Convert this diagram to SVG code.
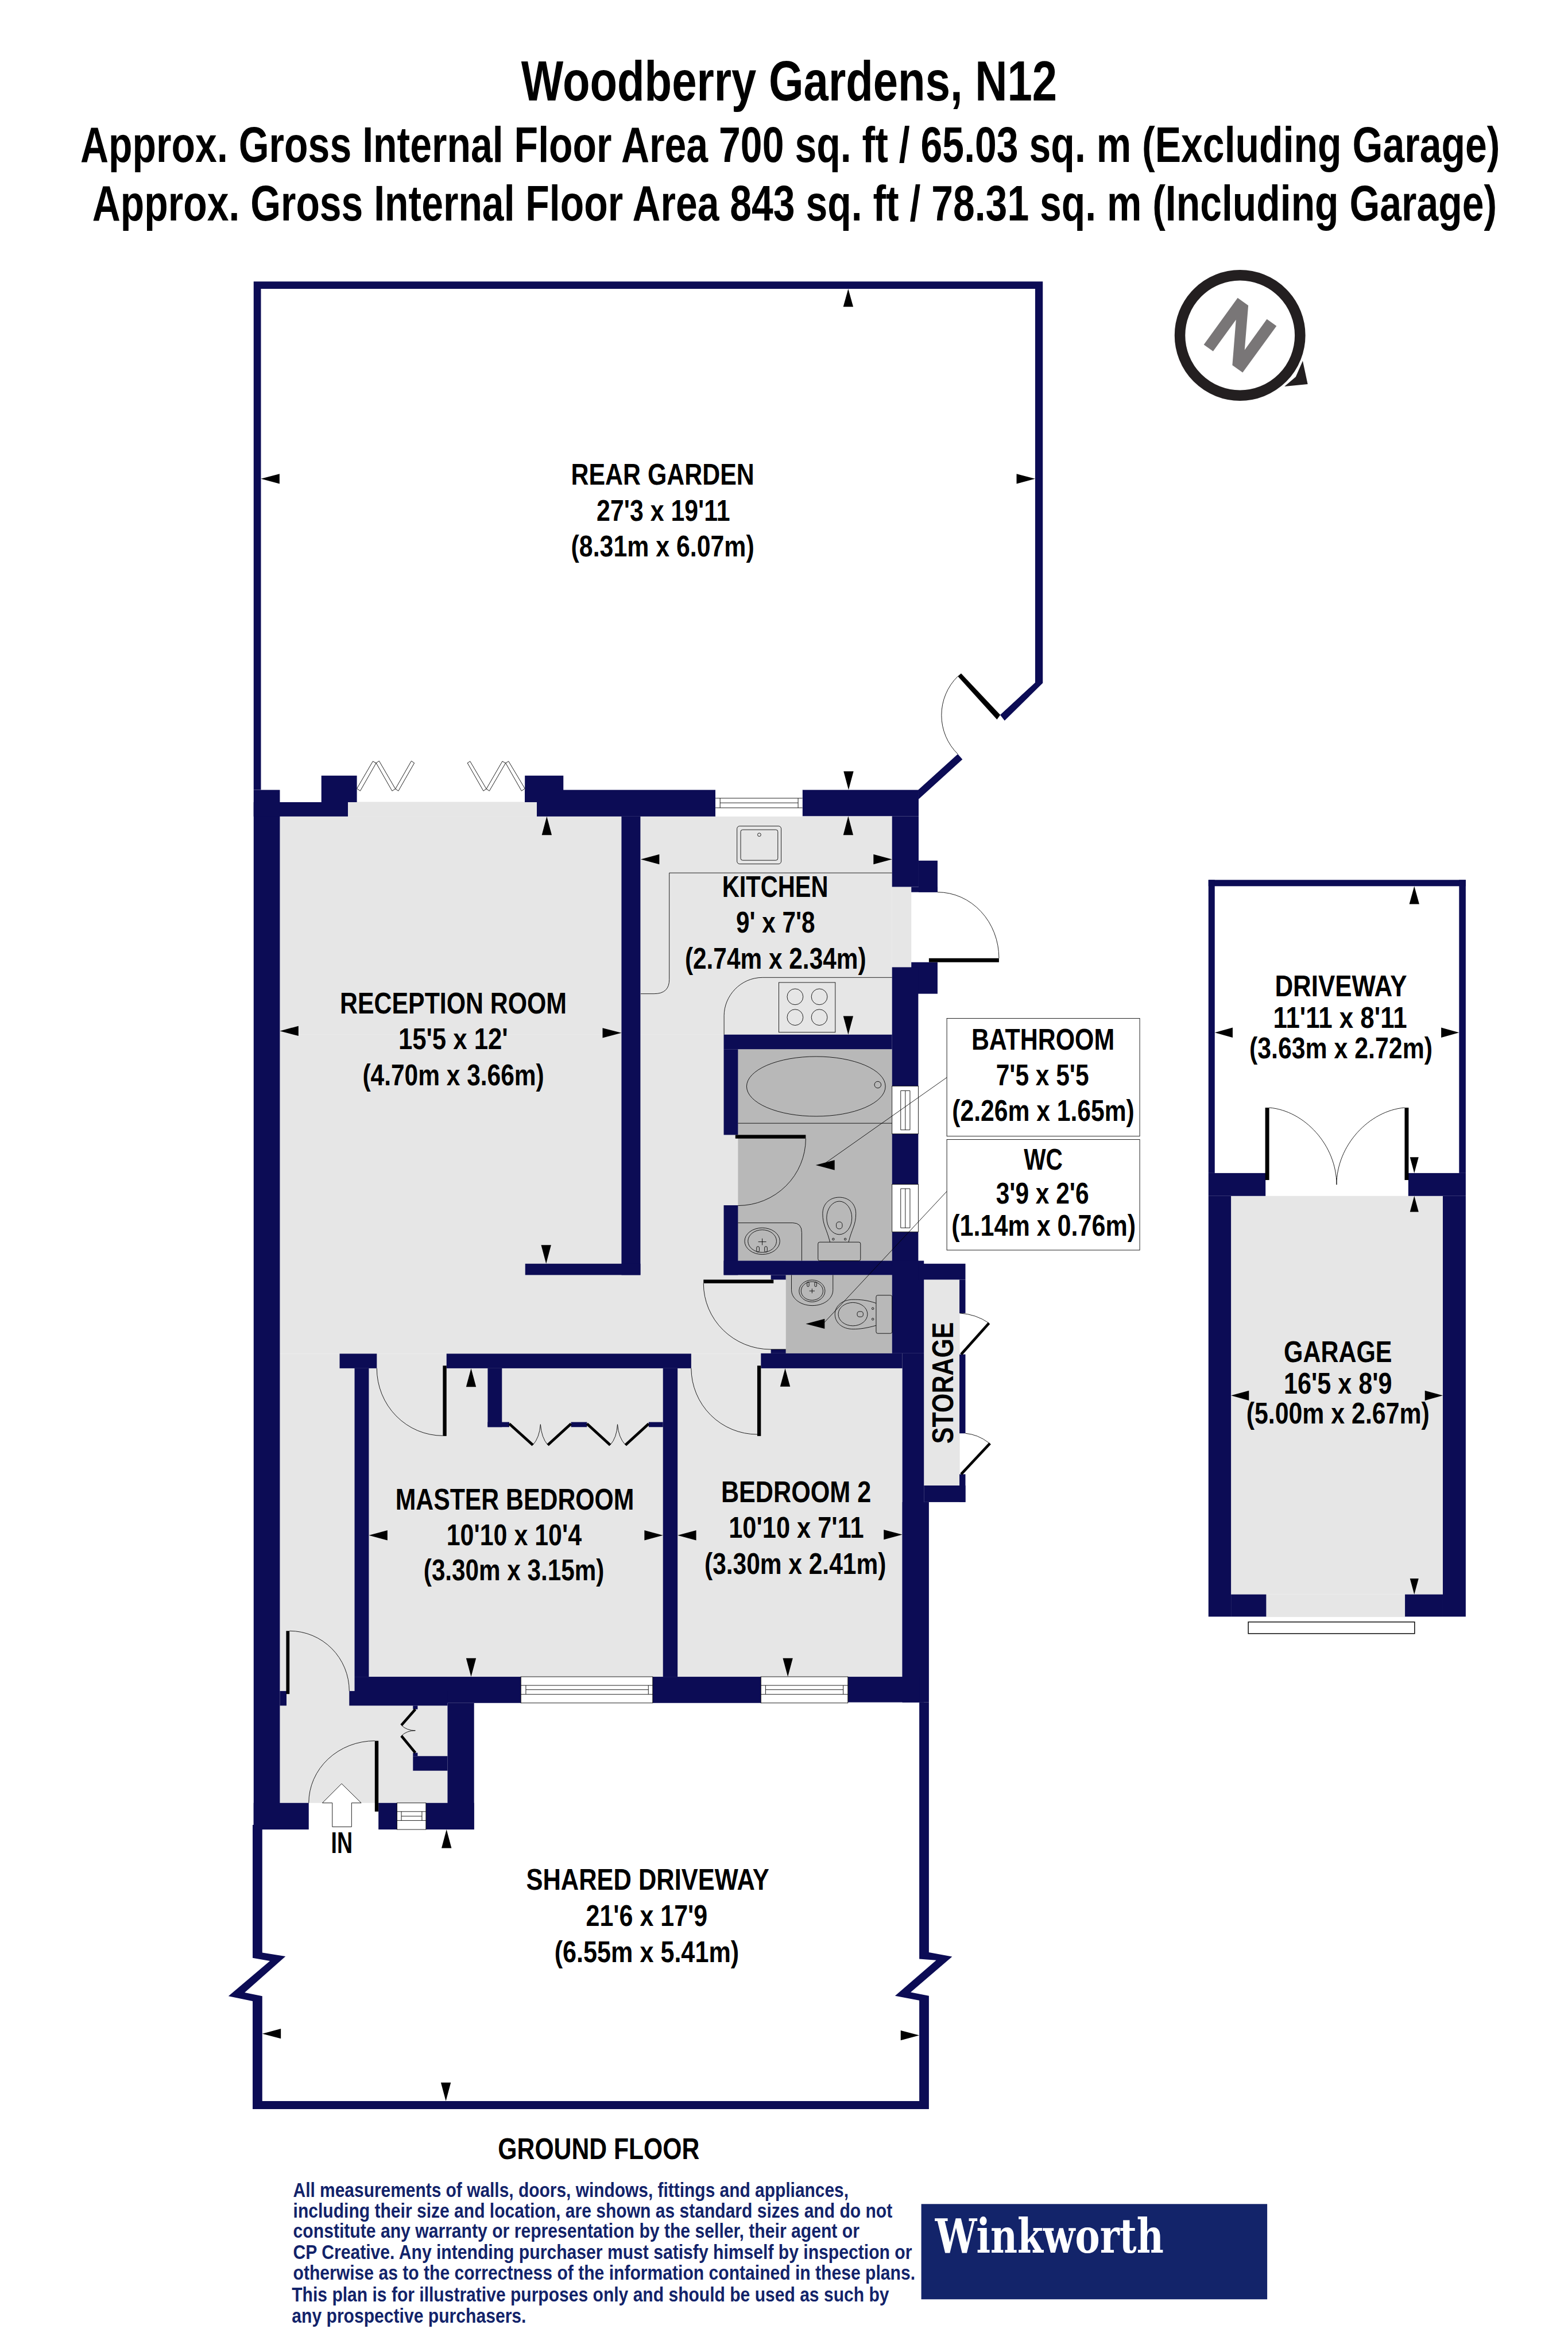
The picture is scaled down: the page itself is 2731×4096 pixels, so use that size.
<svg xmlns="http://www.w3.org/2000/svg" width="2731" height="4096" viewBox="0 0 2731 4096">
<style>
.bg{fill:#fff}
.f{fill:#e6e6e6}
.b{fill:#b8b8b8}
.w{fill:#0c0c55}
.l{fill:none;stroke:#000;stroke-width:1.5}
.lw{fill:#fff;stroke:#000;stroke-width:1.5}
.k{fill:#000}
.lf{fill:none;stroke:#000;stroke-width:9}
text{font-family:"Liberation Sans",Arial,sans-serif;font-weight:700;fill:#000}
.r{font-size:90px}
.h{font-size:150px}
.d{font-size:62px;fill:#12236a}
</style>
<g transform="scale(0.57823)">
<rect class="bg" width="4723" height="7084"/>
<g id="title">
<text class="h" style="font-size:170px" x="1570" y="303" textLength="1614" lengthAdjust="spacingAndGlyphs">Woodberry Gardens, N12</text>
<text class="h" transform="translate(242,488) scale(0.72,1)" textLength="5939" lengthAdjust="spacingAndGlyphs">Approx. Gross Internal Floor Area 700 sq. ft / 65.03 sq. m (Excluding Garage)</text>
<text class="h" transform="translate(278,664) scale(0.72,1)" textLength="5876" lengthAdjust="spacingAndGlyphs">Approx. Gross Internal Floor Area 843 sq. ft / 78.31 sq. m (Including Garage)</text>
</g>
<g id="compass">
<circle cx="3735" cy="1010" r="181" fill="none" stroke="#231f20" stroke-width="32"/>
<polygon fill="#231f20" points="3924,1087 3939,1157 3869,1164 3903,1135"/>
<polygon fill="#797677" points="3728,897 3760,920 3749,1054 3816,961 3845,982 3743,1122 3712,1100 3723,963 3654,1058 3626,1038"/>
</g>
<g id="floors">
<rect class="f" x="843" y="2459" width="1844" height="657"/>
<rect class="f" x="1048" y="2415" width="569" height="44"/>
<rect class="f" x="2687" y="2671" width="58" height="242"/>
<rect class="f" x="843" y="3116" width="1524" height="961"/>
<rect class="f" x="843" y="4077" width="1875" height="973"/>
<rect class="f" x="843" y="5050" width="505" height="380"/>
<rect class="f" x="2783" y="3854" width="108" height="620"/>
<rect class="b" x="2223" y="3160" width="464" height="637"/>
<rect class="b" x="2367" y="3840" width="320" height="236"/>
<rect class="f" x="3708" y="3602" width="638" height="1200"/>
<rect class="f" x="3814" y="4802" width="418" height="68"/>
</g>
<g id="walls">
<polygon class="w" points="764,2379 786,2379 786,870 3118,870 3118,2056 3013,2153 3026,2170 3141,2057 3141,848 764,848"/>
<polygon class="w" points="2766,2379 2885,2271 2899,2287 2767,2407"/>
<polygon class="w" points="761,5496 761,5897 813,5906 688,6012 761,6027 761,6352 2798,6352 2798,6011 2743,6000 2868,5893 2798,5880 2798,5127 2769,5127 2769,5900 2820,5904 2696,6011 2769,6025 2769,6328 790,6328 790,6012 737,6001 860,5892 790,5881 790,5496"/>
<rect class="w" x="764" y="2379" width="79" height="3131"/>
<rect class="w" x="968" y="2336" width="107" height="80"/>
<rect class="w" x="764" y="2416" width="284" height="43"/>
<rect class="w" x="1581" y="2336" width="116" height="80"/>
<rect class="w" x="1581" y="2379" width="574" height="37"/>
<rect class="w" x="1617" y="2416" width="538" height="43"/>
<rect class="w" x="2417" y="2379" width="350" height="79"/>
<rect class="w" x="2687" y="2458" width="80" height="213"/>
<rect class="w" x="2767" y="2592" width="57" height="95"/>
<rect class="w" x="2745" y="2671" width="79" height="16"/>
<rect class="w" x="2745" y="2898" width="79" height="95"/>
<rect class="w" x="2687" y="2913" width="79" height="358"/>
<rect class="w" x="1872" y="2459" width="57" height="1381"/>
<rect class="w" x="1582" y="3806" width="347" height="34"/>
<rect class="w" x="2180" y="3116" width="507" height="44"/>
<rect class="w" x="2180" y="3160" width="43" height="258"/>
<rect class="w" x="2180" y="3630" width="43" height="210"/>
<rect class="w" x="2180" y="3797" width="586" height="43"/>
<rect class="w" x="2687" y="3415" width="79" height="152"/>
<rect class="w" x="2687" y="3710" width="79" height="100"/>
<rect class="w" x="2322" y="3840" width="45" height="14"/>
<rect class="w" x="2322" y="4064" width="45" height="12"/>
<rect class="w" x="2687" y="3797" width="96" height="279"/>
<rect class="w" x="2292" y="4076" width="426" height="45"/>
<rect class="w" x="2718" y="4076" width="65" height="1051"/>
<rect class="w" x="2718" y="4524" width="80" height="603"/>
<rect class="w" x="2766" y="3806" width="142" height="48"/>
<rect class="w" x="2890" y="3854" width="18" height="101"/>
<rect class="w" x="2890" y="4079" width="18" height="238"/>
<rect class="w" x="2890" y="4440" width="18" height="84"/>
<rect class="w" x="2783" y="4474" width="125" height="50"/>
<rect class="w" x="1023" y="4077" width="112" height="44"/>
<rect class="w" x="1345" y="4077" width="737" height="44"/>
<rect class="w" x="1068" y="4121" width="43" height="929"/>
<rect class="w" x="1469" y="4121" width="43" height="177"/>
<rect class="w" x="1469" y="4283" width="65" height="15"/>
<rect class="w" x="1720" y="4283" width="48" height="15"/>
<rect class="w" x="1954" y="4283" width="43" height="15"/>
<rect class="w" x="1997" y="4121" width="44" height="929"/>
<rect class="w" x="1068" y="5050" width="501" height="79"/>
<rect class="w" x="1966" y="5050" width="326" height="79"/>
<rect class="w" x="2554" y="5050" width="215" height="77"/>
<rect class="w" x="1052" y="5093" width="296" height="44"/>
<rect class="w" x="843" y="5093" width="20" height="44"/>
<rect class="w" x="1348" y="5129" width="80" height="381"/>
<rect class="w" x="764" y="5430" width="166" height="80"/>
<rect class="w" x="1140" y="5430" width="56" height="80"/>
<rect class="w" x="1283" y="5430" width="145" height="80"/>
<rect class="w" x="1244" y="5137" width="14" height="11"/>
<rect class="w" x="1244" y="5279" width="14" height="10"/>
<rect class="w" x="1244" y="5289" width="104" height="44"/>
<rect class="w" x="3640" y="2650" width="775" height="19"/>
<rect class="w" x="3640" y="2650" width="19" height="883"/>
<rect class="w" x="4395" y="2650" width="20" height="883"/>
<rect class="w" x="3640" y="3533" width="172" height="69"/>
<rect class="w" x="4242" y="3533" width="173" height="69"/>
<rect class="w" x="3640" y="3602" width="68" height="1267"/>
<rect class="w" x="4346" y="3602" width="69" height="1267"/>
<rect class="w" x="3708" y="4802" width="106" height="67"/>
<rect class="w" x="4232" y="4802" width="114" height="67"/>
</g>
<g id="windows">
<rect x="2155" y="2379" width="262" height="79" fill="#fff"/>
<path class="l" d="M2155,2404H2417M2155,2433H2417M2169,2404V2433M2404,2404V2433M2169,2418H2404"/>
<rect class="lw" x="2687" y="3271" width="79" height="144"/>
<path class="l" d="M2713,3285V3403M2741,3285V3403M2713,3285H2741M2713,3403H2741M2727,3285V3403"/>
<rect class="lw" x="2687" y="3567" width="79" height="143"/>
<path class="l" d="M2713,3580V3698M2741,3580V3698M2713,3580H2741M2713,3698H2741M2727,3580V3698"/>
<rect class="lw" x="1569" y="5050" width="397" height="79"/>
<path class="l" d="M1569,5076H1966M1569,5103H1966M1584,5076V5103M1953,5076V5103M1584,5089H1953"/>
<rect class="lw" x="2292" y="5050" width="262" height="79"/>
<path class="l" d="M2292,5076H2554M2292,5103H2554M2306,5076V5103M2540,5076V5103M2306,5089H2540"/>
<rect class="lw" x="1196" y="5430" width="87" height="80"/>
<path class="l" d="M1196,5456H1283M1196,5483H1283M1209,5456V5483M1271,5456V5483M1209,5470H1271"/>
<rect x="3760" y="4885" width="501" height="35" fill="#fff" stroke="#000" stroke-width="2.5"/>
</g>
<g id="doors">
<polygon class="lw" points="1075,2375 1123,2293 1133,2298 1085,2382"/>
<polygon class="lw" points="1133,2298 1142,2292 1191,2376 1181,2382"/>
<polygon class="lw" points="1191,2376 1200,2382 1248,2298 1239,2292"/>
<polygon class="lw" points="1408,2298 1416,2293 1465,2376 1456,2382"/>
<polygon class="lw" points="1465,2376 1474,2382 1523,2298 1513,2293"/>
<polygon class="lw" points="1523,2298 1532,2293 1581,2375 1571,2382"/>
<path class="l" d="M2824,2687A185,199 0 0 1 3009,2886"/>
<rect class="k" x="2798" y="2886" width="211" height="12"/>
<path class="l" d="M2885,2037A164,164 0 0 0 2885,2271"/>
<polygon class="k" points="2885,2037 2895,2028 3013,2153 3003,2167"/>
<polygon class="w" points="3013,2153 3026,2170 3100,2097 3100,2073"/>
<path class="l" d="M2427,3429A204,202 0 0 1 2223,3631"/>
<rect class="k" x="2215" y="3418" width="212" height="11"/>
<path class="l" d="M2119,3865A202,199 0 0 0 2321,4064H2367"/>
<rect class="k" x="2119" y="3854" width="211" height="11"/>
<path class="l" d="M1135,4121A199,203 0 0 0 1334,4324"/>
<rect class="k" x="1334" y="4113" width="11" height="212"/>
<path class="l" d="M2082,4121A199,200 0 0 0 2281,4320"/>
<rect class="k" x="2281" y="4113" width="11" height="212"/>
<path class="l" d="M872,4912A180,181 0 0 1 1052,5093"/>
<rect class="k" x="862" y="4912" width="10" height="190"/>
<path class="l" d="M930,5430A199,187 0 0 1 1129,5243"/>
<rect class="k" x="1129" y="5243" width="11" height="213"/>
<path class="lf" style="stroke-width:8" d="M1534,4288L1605,4352M1720,4288L1650,4352M1768,4288L1838,4352M1954,4288L1884,4352M1251,5148L1209,5196M1209,5228L1251,5279"/>
<path class="l" d="M1605,4352Q1625,4330 1628,4290Q1631,4330 1650,4352M1838,4352Q1858,4330 1860,4290Q1863,4330 1884,4352M1209,5196Q1225,5212 1251,5212Q1225,5212 1209,5228"/>
<path class="l" d="M2891,3955Q2940,3958 2979,3985M2908,4317Q2945,4320 2978,4345"/>
<path class="lf" d="M2895,4079L2979,3985M2895,4440L2982,4347" style="stroke-width:8"/>
<path class="l" d="M3823,3336C3930,3345 4026,3450 4026,3568M4231,3336C4124,3345 4026,3450 4026,3568"/>
<rect class="k" x="3811" y="3336" width="12" height="218"/>
<rect class="k" x="4231" y="3336" width="12" height="218"/>
<polygon id="entrance" class="lw" points="1029,5372 971,5430 1001,5430 1001,5502 1059,5502 1059,5430 1088,5430"/>
</g>
<g id="fittings">
<path class="l" d="M1930,2993H1970Q2016,2993 2016,2950V2629H2687"/>
<path class="l" d="M2687,2944H2297C2230,2944 2181,3000 2181,3059V3116"/>
<rect class="l" x="2220" y="2488" width="133" height="114" rx="8"/>
<rect class="l" x="2231" y="2499" width="112" height="92" rx="6"/>
<ellipse class="l" cx="2287" cy="2514" rx="5" ry="5"/>
<rect class="l" x="2346" y="2959" width="170" height="150"/>
<ellipse class="l" cx="2395" cy="3002" rx="24" ry="24"/>
<ellipse class="l" cx="2468" cy="3002" rx="24" ry="24"/>
<ellipse class="l" cx="2395" cy="3064" rx="24" ry="24"/>
<ellipse class="l" cx="2468" cy="3064" rx="24" ry="24"/>
<ellipse class="l" cx="2458" cy="3272" rx="209" ry="90"/>
<ellipse class="l" cx="2644" cy="3267" rx="10" ry="10"/>
<path class="l" d="M2223,3383H2687"/>
<path class="l" d="M2223,3683H2388Q2415,3683 2415,3712V3797"/>
<ellipse class="l" cx="2296" cy="3738" rx="53" ry="40"/>
<ellipse class="l" cx="2296" cy="3738" rx="43" ry="34"/>
<path class="l" d="M2284,3740H2308M2296,3730V3750"/>
<rect class="l" x="2279" y="3754" width="8" height="17" rx="4"/>
<rect class="l" x="2303" y="3754" width="8" height="17" rx="4"/>
<rect class="l" x="2464" y="3741" width="128" height="56" rx="5"/>
<path class="l" d="M2500,3741C2490,3700 2478,3690 2478,3655C2478,3625 2500,3606 2528,3606C2556,3606 2578,3625 2578,3655C2578,3690 2566,3700 2556,3741"/>
<ellipse class="l" cx="2528" cy="3668" rx="38" ry="50"/>
<rect class="l" x="2519" y="3680" width="18" height="21" rx="8"/>
<circle class="l" cx="2510" cy="3732" r="3"/>
<circle class="l" cx="2546" cy="3732" r="3"/>
<path class="l" d="M2384,3840V3885C2384,3910 2410,3932 2447,3932C2484,3932 2509,3910 2509,3885V3840"/>
<ellipse class="l" cx="2446" cy="3888" rx="39" ry="33"/>
<ellipse class="l" cx="2446" cy="3888" rx="33" ry="28"/>
<path class="l" d="M2438,3888H2454M2446,3881V3895"/>
<rect class="l" x="2431" y="3861" width="6" height="14" rx="3"/>
<rect class="l" x="2454" y="3861" width="6" height="14" rx="3"/>
<rect class="l" x="2639" y="3901" width="48" height="115" rx="5"/>
<path class="l" d="M2639,3925C2610,3915 2590,3914 2570,3914C2535,3914 2515,3935 2515,3958C2515,3982 2535,4003 2570,4003C2590,4003 2610,4000 2639,3992"/>
<ellipse class="l" cx="2569" cy="3958" rx="44" ry="35"/>
<rect class="l" x="2582" y="3950" width="18" height="16" rx="7"/>
<circle class="l" cx="2629" cy="3941" r="3"/>
<circle class="l" cx="2629" cy="3973" r="3"/>
</g>
<g id="callouts">
<rect class="lw" x="2852" y="3067" width="581" height="355"/>
<rect class="lw" x="2852" y="3432" width="581" height="333"/>
<path class="l" d="M2852,3245L2483,3505M2852,3588L2483,3983"/>
</g>
<g id="arrows" class="k">
<polygon points="2556,2379 2541,2323 2571,2323"/>
<polygon points="2555,2458 2540,2515 2570,2515"/>
<polygon points="1930,2588 1986,2573 1986,2603"/>
<polygon points="2687,2588 2631,2573 2631,2603"/>
<polygon points="2555,3116 2540,3060 2570,3060"/>
<polygon points="1647,2459 1632,2515 1662,2515"/>
<polygon points="1645,3806 1630,3750 1660,3750"/>
<polygon points="843,3105 899,3090 899,3120"/>
<polygon points="1872,3111 1815,3096 1815,3126"/>
<polygon points="2555,870 2540,924 2570,924"/>
<polygon points="786,1442 842,1427 842,1457"/>
<polygon points="3118,1442 3062,1427 3062,1457"/>
<polygon points="2457,3509 2514,3494 2514,3524"/>
<polygon points="2427,3987 2484,3972 2484,4002"/>
<polygon points="1419,4121 1404,4177 1434,4177"/>
<polygon points="1419,5050 1404,4994 1434,4994"/>
<polygon points="1111,4624 1167,4609 1167,4639"/>
<polygon points="1997,4624 1941,4609 1941,4639"/>
<polygon points="2365,4121 2350,4176 2380,4176"/>
<polygon points="2373,5050 2358,4994 2388,4994"/>
<polygon points="2041,4624 2097,4609 2097,4639"/>
<polygon points="2718,4622 2662,4607 2662,4637"/>
<polygon points="1345,5510 1330,5566 1360,5566"/>
<polygon points="790,6125 846,6110 846,6140"/>
<polygon points="2769,6130 2713,6115 2713,6145"/>
<polygon points="1343,6328 1328,6272 1358,6272"/>
<polygon points="4260,2669 4245,2723 4275,2723"/>
<polygon points="3659,3110 3713,3095 3713,3125"/>
<polygon points="4395,3110 4341,3095 4341,3125"/>
<polygon points="4260,3533 4247,3485 4273,3485"/>
<polygon points="4260,3602 4247,3650 4273,3650"/>
<polygon points="3708,4203 3762,4188 3762,4218"/>
<polygon points="4346,4203 4292,4188 4292,4218"/>
<polygon points="4260,4802 4247,4754 4273,4754"/>
</g>
<g id="labels">
<text class="r" x="1720" y="1460" textLength="552" lengthAdjust="spacingAndGlyphs">REAR GARDEN</text>
<text class="r" x="1797" y="1568" textLength="402" lengthAdjust="spacingAndGlyphs">27'3 x 19'11</text>
<text class="r" x="1720" y="1676" textLength="552" lengthAdjust="spacingAndGlyphs">(8.31m x 6.07m)</text>
<text class="r" x="2175" y="2702" textLength="320" lengthAdjust="spacingAndGlyphs">KITCHEN</text>
<text class="r" x="2217" y="2808" textLength="238" lengthAdjust="spacingAndGlyphs">9' x 7'8</text>
<text class="r" x="2063" y="2917" textLength="546" lengthAdjust="spacingAndGlyphs">(2.74m x 2.34m)</text>
<text class="r" x="1024" y="3052" textLength="683" lengthAdjust="spacingAndGlyphs">RECEPTION ROOM</text>
<text class="r" x="1200" y="3160" textLength="330" lengthAdjust="spacingAndGlyphs">15'5 x 12'</text>
<text class="r" x="1092" y="3269" textLength="547" lengthAdjust="spacingAndGlyphs">(4.70m x 3.66m)</text>
<text class="r" x="2926" y="3161" textLength="431" lengthAdjust="spacingAndGlyphs">BATHROOM</text>
<text class="r" x="3000" y="3268" textLength="280" lengthAdjust="spacingAndGlyphs">7'5 x 5'5</text>
<text class="r" x="2868" y="3375" textLength="549" lengthAdjust="spacingAndGlyphs">(2.26m x 1.65m)</text>
<text class="r" x="3084" y="3522" textLength="117" lengthAdjust="spacingAndGlyphs">WC</text>
<text class="r" x="3000" y="3624" textLength="280" lengthAdjust="spacingAndGlyphs">3'9 x 2'6</text>
<text class="r" x="2866" y="3721" textLength="555" lengthAdjust="spacingAndGlyphs">(1.14m x 0.76m)</text>
<text class="r" x="1191" y="4546" textLength="719" lengthAdjust="spacingAndGlyphs">MASTER BEDROOM</text>
<text class="r" x="1345" y="4654" textLength="407" lengthAdjust="spacingAndGlyphs">10'10 x 10'4</text>
<text class="r" x="1276" y="4760" textLength="544" lengthAdjust="spacingAndGlyphs">(3.30m x 3.15m)</text>
<text class="r" x="2172" y="4524" textLength="452" lengthAdjust="spacingAndGlyphs">BEDROOM 2</text>
<text class="r" x="2195" y="4632" textLength="407" lengthAdjust="spacingAndGlyphs">10'10 x 7'11</text>
<text class="r" x="2122" y="4741" textLength="547" lengthAdjust="spacingAndGlyphs">(3.30m x 2.41m)</text>
<text class="r" transform="translate(2871,4348) rotate(-90)" textLength="366" lengthAdjust="spacingAndGlyphs">STORAGE</text>
<text class="r" x="997" y="5580" textLength="65" lengthAdjust="spacingAndGlyphs">IN</text>
<text class="r" x="1585" y="5692" textLength="732" lengthAdjust="spacingAndGlyphs">SHARED DRIVEWAY</text>
<text class="r" x="1765" y="5800" textLength="366" lengthAdjust="spacingAndGlyphs">21'6 x 17'9</text>
<text class="r" x="1670" y="5909" textLength="556" lengthAdjust="spacingAndGlyphs">(6.55m x 5.41m)</text>
<text class="r" x="3840" y="3001" textLength="398" lengthAdjust="spacingAndGlyphs">DRIVEWAY</text>
<text class="r" x="3835" y="3095" textLength="403" lengthAdjust="spacingAndGlyphs">11'11 x 8'11</text>
<text class="r" x="3763" y="3187" textLength="552" lengthAdjust="spacingAndGlyphs">(3.63m x 2.72m)</text>
<text class="r" x="3867" y="4103" textLength="326" lengthAdjust="spacingAndGlyphs">GARAGE</text>
<text class="r" x="3867" y="4198" textLength="326" lengthAdjust="spacingAndGlyphs">16'5 x 8'9</text>
<text class="r" x="3754" y="4288" textLength="552" lengthAdjust="spacingAndGlyphs">(5.00m x 2.67m)</text>
<text class="r" x="1500" y="6503" textLength="607" lengthAdjust="spacingAndGlyphs">GROUND FLOOR</text>
</g>
<g id="disclaimer">
<text class="d" transform="translate(883,6617) scale(0.74,1)" textLength="2261" lengthAdjust="spacingAndGlyphs">All measurements of walls, doors, windows, fittings and appliances,</text>
<text class="d" transform="translate(883,6679) scale(0.74,1)" textLength="2439" lengthAdjust="spacingAndGlyphs">including their size and location, are shown as standard sizes and do not</text>
<text class="d" transform="translate(883,6740) scale(0.74,1)" textLength="2305" lengthAdjust="spacingAndGlyphs">constitute any warranty or representation by the seller, their agent or</text>
<text class="d" transform="translate(883,6804) scale(0.74,1)" textLength="2519" lengthAdjust="spacingAndGlyphs">CP Creative. Any intending purchaser must satisfy himself by inspection or</text>
<text class="d" transform="translate(883,6866) scale(0.74,1)" textLength="2532" lengthAdjust="spacingAndGlyphs">otherwise as to the correctness of the information contained in these plans.</text>
<text class="d" transform="translate(879,6932) scale(0.74,1)" textLength="2431" lengthAdjust="spacingAndGlyphs">This plan is for illustrative purposes only and should be used as such by</text>
<text class="d" transform="translate(879,6995) scale(0.74,1)" textLength="954" lengthAdjust="spacingAndGlyphs">any prospective purchasers.</text>
</g>
<g id="logo">
<rect x="2775" y="6638" width="1042" height="287" fill="#13246a"/>
<text x="2817" y="6785" textLength="688" lengthAdjust="spacingAndGlyphs" style="font-family:'DejaVu Serif','Liberation Serif',serif;font-size:141px;fill:#fff">Winkworth</text>
</g>
</g>
</svg>
